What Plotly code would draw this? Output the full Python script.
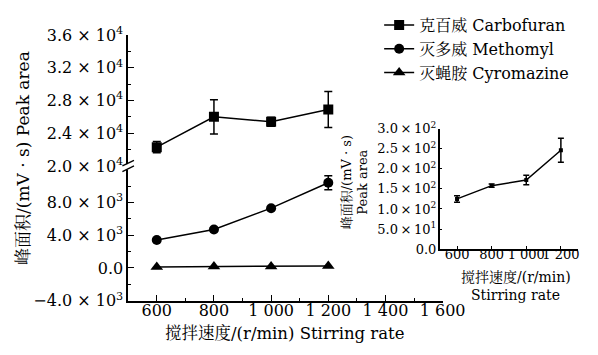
import plotly.graph_objects as go

# ---- data ----
speeds = [600, 800, 1000, 1200]
carbofuran = [22300, 26000, 25400, 26900]
carbofuran_err = [700, 2100, 550, 2200]
methomyl = [3400, 4700, 7300, 10400]
methomyl_err = [150, 250, 150, 850]
cyromazine = [125, 158, 172, 246]
cyromazine_err = [8, 4, 12, 30]

series_names = ["克百威 Carbofuran", "灭多威 Methomyl", "灭蝇胺 Cyromazine"]

x_ticks = [600, 800, 1000, 1200, 1400, 1600]
x_ticktext = ["600", "800", "1 000", "1 200", "1 400", "1 600"]
y_low_ticks = [-4000, 0, 4000, 8000]
y_low_text = ["−4.0 × 10<sup>3</sup>", "0.0", "4.0 × 10<sup>3</sup>", "8.0 × 10<sup>3</sup>"]
y_up_ticks = [20000, 24000, 28000, 32000, 36000]
y_up_text = ["2.0 × 10<sup>4</sup>", "2.4 × 10<sup>4</sup>", "2.8 × 10<sup>4</sup>",
             "3.2 × 10<sup>4</sup>", "3.6 × 10<sup>4</sup>"]
inset_x_ticks = [600, 800, 1000, 1200]
inset_x_text = ["600", "800", "1 000", "1 200"]
inset_y_ticks = [0, 50, 100, 150, 200, 250, 300]
inset_y_text = ["0.0", "5.0\u2009×\u200910<sup>1</sup>", "1.0\u2009×\u200910<sup>2</sup>",
                "1.5\u2009×\u200910<sup>2</sup>", "2.0\u2009×\u200910<sup>2</sup>",
                "2.5\u2009×\u200910<sup>2</sup>", "3.0\u2009×\u200910<sup>2</sup>"]

FONT = "DejaVu Serif, Noto Serif CJK SC, Noto Sans CJK SC, serif"
W, H = 598, 355
def px(x):
    return x / W
def py(y):
    return 1 - y / H

x_dom = [px(125), px(452)]
y_low_dom = [py(299), py(155)]
y_up_dom = [py(155), py(15)]
ins_x_dom = [px(449), px(593)]
ins_y_dom = [py(244), py(115)]

fig = go.Figure()

def err(arr, w=4):
    return dict(type="data", array=arr, visible=True, color="black", thickness=1.5, width=w)

fig.add_trace(go.Scatter(x=speeds, y=carbofuran, error_y=err(carbofuran_err),
                         mode="lines+markers", name=series_names[0],
                         line=dict(color="black", width=1.5),
                         marker=dict(symbol="square", size=10, color="black"),
                         xaxis="x2", yaxis="y2"))
fig.add_trace(go.Scatter(x=speeds, y=methomyl, error_y=err(methomyl_err),
                         mode="lines+markers", name=series_names[1],
                         line=dict(color="black", width=1.5),
                         marker=dict(symbol="circle", size=10, color="black"),
                         xaxis="x", yaxis="y"))
fig.add_trace(go.Scatter(x=speeds, y=cyromazine,
                         mode="lines+markers", name=series_names[2],
                         line=dict(color="black", width=1.5),
                         marker=dict(symbol="triangle-up", size=11, color="black"),
                         xaxis="x", yaxis="y"))
fig.add_trace(go.Scatter(x=speeds, y=cyromazine, error_y=err(cyromazine_err, 3),
                         mode="lines+markers", showlegend=False,
                         line=dict(color="black", width=1.5),
                         marker=dict(symbol="square", size=4, color="black"),
                         xaxis="x3", yaxis="y3"))

axis_common = dict(showline=True, linecolor="black", linewidth=1.5, showgrid=False,
                   zeroline=False, ticks="inside", tickcolor="black", tickwidth=1.2,
                   tickangle=0,
                   tickfont=dict(family=FONT, size=16, color="black"))

fig.update_layout(
    width=W, height=H, margin=dict(l=0, r=0, t=0, b=0),
    paper_bgcolor="white", plot_bgcolor="rgba(0,0,0,0)",
    font=dict(family=FONT, color="black"),
    xaxis=dict(axis_common, domain=x_dom, range=[500, 1600], anchor="y",
               tickvals=x_ticks, ticktext=x_ticktext, ticklen=6, ticklabelstandoff=-6,
               minor=dict(tickvals=[700, 900, 1100, 1300, 1500], ticklen=3,
                          ticks="inside", tickcolor="black")),
    xaxis2=dict(domain=x_dom, range=[500, 1600], anchor="y2", matches="x",
                visible=False),
    yaxis=dict(axis_common, domain=y_low_dom, range=[-4000, 12460], anchor="x",
               tickvals=y_low_ticks, ticktext=y_low_text, ticklen=6,
               minor=dict(tickvals=[-2000, 2000, 6000, 10000], ticklen=3,
                          ticks="inside", tickcolor="black")),
    yaxis2=dict(axis_common, domain=y_up_dom, range=[20000, 36000], anchor="x2",
                tickvals=y_up_ticks, ticktext=y_up_text, ticklen=6,
                minor=dict(tickvals=[22000, 26000, 30000, 34000], ticklen=3,
                           ticks="inside", tickcolor="black")),
    xaxis3=dict(axis_common, domain=ins_x_dom, range=[500, 1300], anchor="y3",
                tickvals=inset_x_ticks, ticktext=inset_x_text, ticklen=3,
                ticklabelstandoff=-8,
                tickfont=dict(family=FONT, size=13, color="black")),
    yaxis3=dict(axis_common, domain=ins_y_dom, range=[0, 300], anchor="x3",
                tickvals=inset_y_ticks, ticktext=inset_y_text, ticklen=3,
                ticklabelstandoff=-1,
                tickfont=dict(family=FONT, size=13, color="black")),
    legend=dict(x=px(386), y=py(-14), xanchor="left", yanchor="top",
                bgcolor="rgba(0,0,0,0)", font=dict(family=FONT, size=16, color="black"),
                itemwidth=30, tracegroupgap=0),
    showlegend=True,
)

# axis break marks
fig.add_shape(type="rect", xref="paper", yref="paper",
              x0=px(122), x1=px(128), y0=py(159), y1=py(153),
              fillcolor="white", line=dict(width=0), layer="above")
for dy in (-3, 3):
    fig.add_shape(type="line", xref="paper", yref="paper",
                  x0=px(119), y0=py(158 + dy), x1=px(131), y1=py(152 + dy),
                  line=dict(color="black", width=1.3), layer="above")

# titles
def ann(text, x, y, size, angle=0):
    fig.add_annotation(text=text, xref="paper", yref="paper", x=px(x), y=py(y),
                       xanchor="center", yanchor="middle", textangle=angle,
                       showarrow=False, font=dict(family=FONT, size=size, color="black"))

ann("峰面积/(mV · s) Peak area", 15, 146, 17, -90)
ann("搅拌速度/(r/min) Stirring rate", 288, 334, 16.5)
ann("峰面积/(mV · s)", 352, 172, 13, -90)
ann("Peak area", 369, 172, 13, -90)
ann("搅拌速度/(r/min)", 528, 274, 14)
ann("Stirring rate", 528, 293, 14)

fig.write_html("out.html")
